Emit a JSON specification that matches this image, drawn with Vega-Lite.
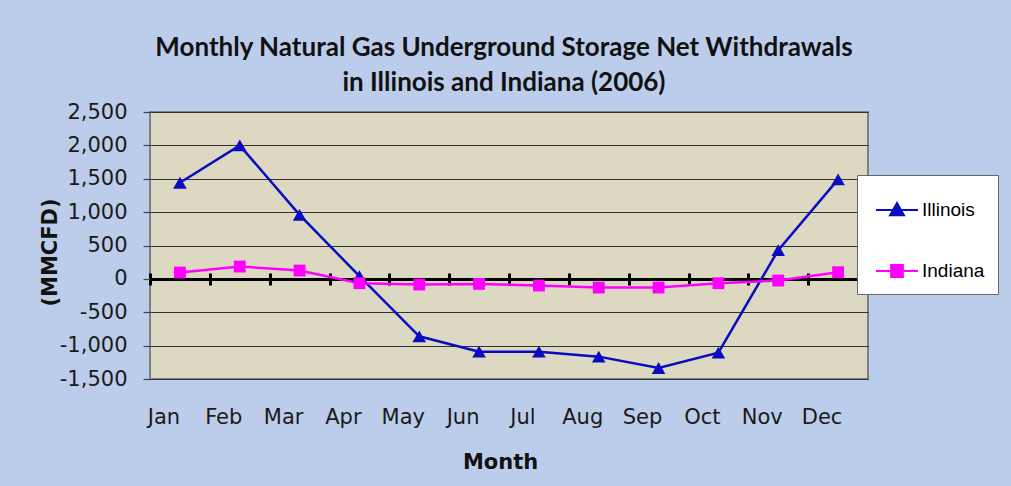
{
  "$schema": "https://vega.github.io/schema/vega-lite/v6.json",
  "width": 718,
  "height": 267,
  "autosize": {"type": "none"},
  "padding": {"left": 150, "top": 112, "right": 143, "bottom": 107},
  "background": "#bccdec",
  "title": {
    "text": ["Monthly Natural Gas Underground  Storage Net Withdrawals", "in Illinois and Indiana (2006)"],
    "font": "Lato",
    "fontSize": 26,
    "fontWeight": "bold",
    "color": "#111111",
    "anchor": "middle",
    "frame": "group",
    "lineHeight": 35,
    "offset": 5,
    "dx": -5
  },
  "config": {
    "view": {"fill": "#dcd8c2", "stroke": "#7f7f7f", "strokeWidth": 2}
  },
  "data": {
    "values": [
      {"month": "Jan", "state": "Illinois", "value": 1440},
      {"month": "Feb", "state": "Illinois", "value": 2000},
      {"month": "Mar", "state": "Illinois", "value": 960},
      {"month": "Apr", "state": "Illinois", "value": 40},
      {"month": "May", "state": "Illinois", "value": -860},
      {"month": "Jun", "state": "Illinois", "value": -1090},
      {"month": "Jul", "state": "Illinois", "value": -1090},
      {"month": "Aug", "state": "Illinois", "value": -1165},
      {"month": "Sep", "state": "Illinois", "value": -1335},
      {"month": "Oct", "state": "Illinois", "value": -1105},
      {"month": "Nov", "state": "Illinois", "value": 430},
      {"month": "Dec", "state": "Illinois", "value": 1490},
      {"month": "Jan", "state": "Indiana", "value": 95},
      {"month": "Feb", "state": "Indiana", "value": 185},
      {"month": "Mar", "state": "Indiana", "value": 125},
      {"month": "Apr", "state": "Indiana", "value": -65},
      {"month": "May", "state": "Indiana", "value": -85},
      {"month": "Jun", "state": "Indiana", "value": -75},
      {"month": "Jul", "state": "Indiana", "value": -100},
      {"month": "Aug", "state": "Indiana", "value": -130},
      {"month": "Sep", "state": "Indiana", "value": -130},
      {"month": "Oct", "state": "Indiana", "value": -65},
      {"month": "Nov", "state": "Indiana", "value": -25},
      {"month": "Dec", "state": "Indiana", "value": 100}
    ]
  },
  "encoding": {
    "y": {
      "field": "value",
      "type": "quantitative",
      "scale": {"domain": [-1500, 2500], "nice": false, "zero": false},
      "axis": {
        "orient": "left",
        "values": [-1500, -1000, -500, 0, 500, 1000, 1500, 2000, 2500],
        "grid": true,
        "gridColor": "#333333",
        "gridWidth": 1.2,
        "domain": false,
        "ticks": true,
        "tickSize": 7,
        "tickColor": "#444444",
        "tickWidth": 1.2,
        "labelFont": "DejaVu Sans",
        "labelFontSize": 21,
        "labelColor": "#1a1a1a",
        "labelPadding": 16,
        "labelExpr": "replace(format(datum.value, ','), '\u2212', '-')",
        "title": "(MMCFD)",
        "titleFont": "DejaVu Sans",
        "titleFontSize": 21,
        "titleFontWeight": "bold",
        "titleColor": "#111111",
        "titleX": -100,
        "titleY": 140,
        "titleBaseline": "middle",
        "titleAngle": 270
      }
    },
    "color": {
      "field": "state",
      "type": "nominal",
      "scale": {"domain": ["Illinois", "Indiana"], "range": ["#0b0bbf", "#ff00ff"]},
      "legend": {
        "orient": "none",
        "legendX": 707,
        "legendY": 63,
        "title": null,
        "fillColor": "white",
        "strokeColor": "#666666",
        "padding": 13,
        "symbolSize": 1764,
        "symbolOffset": 5,
        "labelOffset": 3,
        "rowPadding": 29,
        "labelFont": "Liberation Sans",
        "labelFontSize": 19,
        "labelColor": "#000000",
        "symbolStrokeWidth": 2,
        "encode": {
          "symbols": {
            "update": {
              "fill": {"signal": "datum.value === 'Illinois' ? '#0b0bbf' : '#ff00ff'"},
              "stroke": {"signal": "datum.value === 'Illinois' ? '#0b0bbf' : '#ff00ff'"},
              "fillOpacity": {"value": 1},
              "strokeOpacity": {"value": 1},
              "opacity": {"value": 1},
              "strokeWidth": {"value": 2}
            }
          }
        }
      }
    }
  },
  "layer": [
    {
      "mark": {"type": "line", "strokeWidth": 2.5},
      "encoding": {
        "x": {
          "field": "month",
          "type": "ordinal",
          "sort": ["Jan", "Feb", "Mar", "Apr", "May", "Jun", "Jul", "Aug", "Sep", "Oct", "Nov", "Dec"],
          "scale": {"type": "band", "paddingInner": 0, "paddingOuter": 0},
          "axis": {
            "orient": "bottom",
            "domain": false,
            "ticks": false,
            "grid": false,
            "labelAngle": 0,
            "labelOffset": -16,
            "labelPadding": 44,
            "labelBaseline": "alphabetic",
            "labelFont": "DejaVu Sans",
            "labelFontSize": 21,
            "labelColor": "#1a1a1a",
            "title": "Month",
            "titleFont": "DejaVu Sans",
            "titleFontSize": 21,
            "titleFontWeight": "bold",
            "titleColor": "#111111",
            "titleX": 350,
            "titleY": 89,
            "titleBaseline": "alphabetic",
            "titleAlign": "center"
          }
        }
      }
    },
    {
      "transform": [{"filter": "datum.state === 'Illinois'"}],
      "mark": {"type": "point", "filled": true, "opacity": 1, "size": 185, "shape": "triangle-up"},
      "encoding": {
        "x": {
          "field": "month",
          "type": "ordinal",
          "sort": ["Jan", "Feb", "Mar", "Apr", "May", "Jun", "Jul", "Aug", "Sep", "Oct", "Nov", "Dec"],
          "axis": {
            "orient": "bottom",
            "offset": -100,
            "domain": true,
            "domainColor": "#000000",
            "domainWidth": 3,
            "ticks": true,
            "tickBand": "extent",
            "tickSize": 6,
            "tickWidth": 3,
            "tickColor": "#000000",
            "labels": false,
            "grid": false,
            "title": null
          }
        }
      }
    },
    {
      "transform": [{"filter": "datum.state === 'Indiana'"}],
      "mark": {"type": "point", "filled": true, "opacity": 1, "size": 140, "shape": "square"},
      "encoding": {
        "x": {
          "field": "month",
          "type": "ordinal",
          "sort": ["Jan", "Feb", "Mar", "Apr", "May", "Jun", "Jul", "Aug", "Sep", "Oct", "Nov", "Dec"],
          "axis": {
            "orient": "top",
            "offset": -167,
            "domain": false,
            "ticks": true,
            "tickBand": "extent",
            "tickSize": 6,
            "tickWidth": 3,
            "tickColor": "#000000",
            "labels": false,
            "grid": false,
            "title": null
          }
        }
      }
    },
    {
      "mark": {"type": "point", "filled": true, "opacity": 0},
      "encoding": {
        "x": {
          "field": "month",
          "type": "ordinal",
          "sort": ["Jan", "Feb", "Mar", "Apr", "May", "Jun", "Jul", "Aug", "Sep", "Oct", "Nov", "Dec"],
          "axis": null
        },
        "shape": {
          "field": "state",
          "type": "nominal",
          "scale": {
            "domain": ["Illinois", "Indiana"],
            "range": ["M-1,0H1M0,-0.33L0.33,0.25L-0.33,0.25Z", "M-1,0H1M-0.28,-0.28H0.28V0.28H-0.28Z"]
          }
        }
      }
    }
  ],
  "resolve": {"axis": {"x": "independent"}}
}
